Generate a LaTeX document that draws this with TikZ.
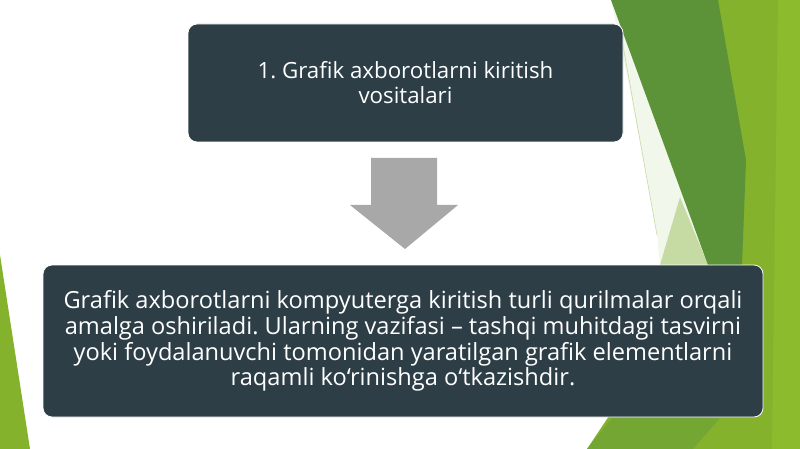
\documentclass[tikz,border=0pt]{standalone}
\usepackage{fontspec}
\setmainfont{Open Sans}
\frenchspacing
\definecolor{boxfill}{RGB}{45,62,71}
\definecolor{darkgreen}{RGB}{92,146,56}
\definecolor{lightgreen}{RGB}{132,178,44}
\definecolor{lightgreenb}{RGB}{141,187,46}
\definecolor{midgreen}{RGB}{116,166,52}
\definecolor{palegreen}{RGB}{198,219,164}
\definecolor{faintgreen}{RGB}{242,247,236}
\definecolor{arrowgray}{RGB}{168,168,168}
\tikzset{
  infobox/.style={fill=boxfill, draw=white, line width=0.8pt, rounded corners=9pt,
    text=white, align=center, inner sep=0pt},
}
\begin{document}
\begin{tikzpicture}[x=1pt,y=-1pt]
\useasboundingbox (0,0) rectangle (800,449);
\fill[white] (0,0) rectangle (800,449);
% background green facets
\fill[lightgreen] (700,0) -- (800,0) -- (800,449) -- (587,449) -- (700,280) -- cycle;
\fill[lightgreenb] (778,0) -- (800,0) -- (800,449) -- (772,449) -- cycle;
\fill[midgreen] (587,449) -- (612,418) -- (720,418) -- (693,449) -- cycle;
\fill[faintgreen] (611,0) -- (630,90) -- (657,233) -- (660,265) -- (708,265) -- cycle;
\fill[palegreen] (680,197) -- (660,265) -- (708,265) -- cycle;
\draw[palegreen, line width=0.6pt] (622,40) -- (657,235);
\fill[darkgreen] (611,0) -- (718,0) -- (746,160) -- (742,265) -- (708,265) -- cycle;
\fill[lightgreen] (0,255) -- (30,449) -- (0,449) -- cycle;
% boxes
\node[infobox, minimum width=435pt, minimum height=118pt, font=\fontsize{22.3}{25}\selectfont]
  (top) at (405.5,83) {1. Grafik axborotlarni kiritish\\vositalari};
\node[infobox, minimum width=720pt, minimum height=152pt, font=\fontsize{23.6}{25.7}\selectfont]
  (bottom) at (403,341) {Grafik axborotlarni kompyuterga kiritish turli qurilmalar orqali\\
  amalga oshiriladi. Ularning vazifasi – tashqi muhitdagi tasvirni\\
  yoki foydalanuvchi tomonidan yaratilgan grafik elementlarni\\
  raqamli ko‘rinishga o‘tkazishdir.};
% block arrow
\fill[arrowgray] (371,158) -- (437,158) -- (437,205) -- (458,205) -- (405,249) -- (350,205) -- (371,205) -- cycle;
\end{tikzpicture}
\end{document}
